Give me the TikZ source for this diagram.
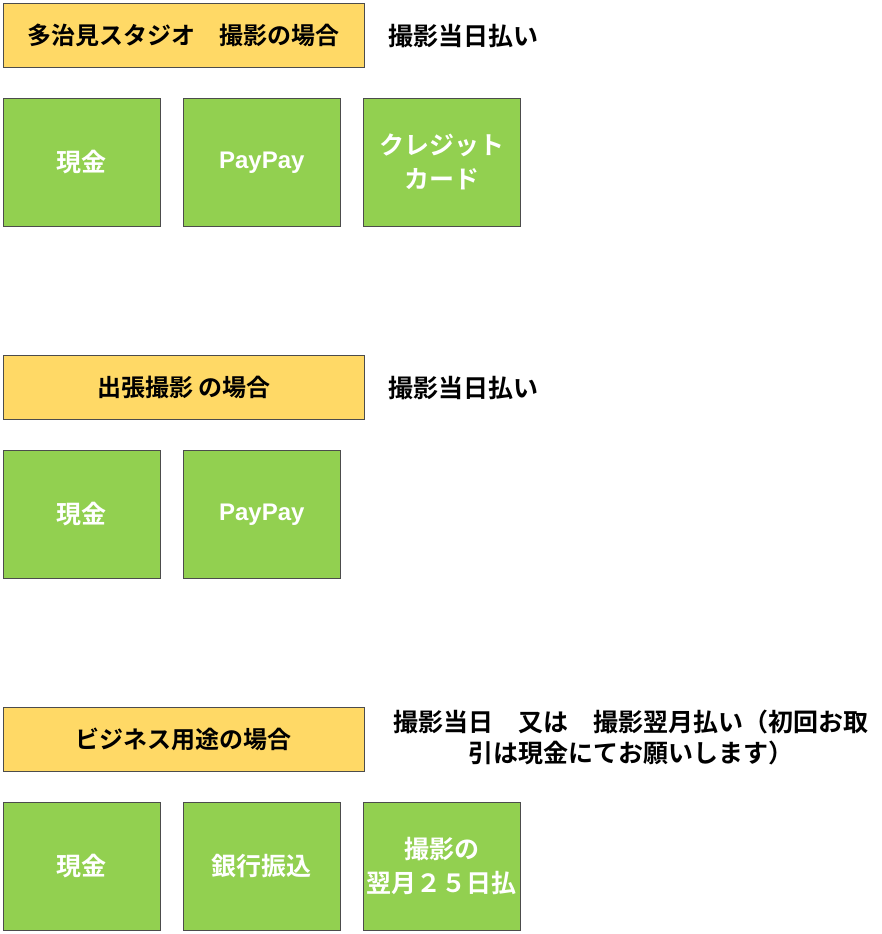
\documentclass[tikz,border=0pt]{standalone}
\usepackage{fontspec}
\setmainfont{Noto Sans CJK JP}[BoldFont={Noto Sans CJK JP Bold}]
\newfontfamily\latinb{Liberation Sans}[BoldFont={Liberation Sans Bold}]
\definecolor{ybox}{HTML}{FFD966}
\definecolor{gbox}{HTML}{92D050}
\begin{document}
\begin{tikzpicture}[x=1pt,y=-1pt,
  hdr/.style={draw=black!70,line width=0.6pt,fill=ybox,minimum width=361pt,minimum height=64pt,anchor=north west,font=\fontsize{24}{28}\selectfont\bfseries,inner sep=0pt},
  gb/.style={draw=black!70,line width=0.6pt,fill=gbox,minimum width=157pt,minimum height=128pt,anchor=north west,text=white,font=\fontsize{25}{34}\selectfont\bfseries,align=center,inner sep=0pt},
  note/.style={font=\fontsize{25}{31}\selectfont\bfseries,align=center}]
\useasboundingbox (0,0) rectangle (882,934);
\node[hdr] (h1) at (3,3) {多治見スタジオ　撮影の場合};
\node[note,anchor=west,inner sep=0pt] (n1) at (388,36) {撮影当日払い};
\node[gb] (a1) at (3,98) {現金};
\node[gb] (a2) at (183,98) {{\latinb\fontsize{24}{28}\selectfont\bfseries PayPay}};
\node[gb] (a3) at (363,98) {クレジット\\カード};
\node[hdr] (h2) at (3,355) {出張撮影 の場合};
\node[note,anchor=west,inner sep=0pt] (n2) at (388,388) {撮影当日払い};
\node[gb] (b1) at (3,450) {現金};
\node[gb] (b2) at (183,450) {{\latinb\fontsize{24}{28}\selectfont\bfseries PayPay}};
\node[hdr] (h3) at (3,707) {ビジネス用途の場合};
\node[note] (n3) at (631,737) {撮影当日　又は　撮影翌月払い（初回お取\\引は現金にてお願いします）};
\node[gb] (c1) at (3,802) {現金};
\node[gb] (c2) at (183,802) {銀行振込};
\node[gb] (c3) at (363,802) {撮影の\\翌月２５日払};
\end{tikzpicture}
\end{document}
